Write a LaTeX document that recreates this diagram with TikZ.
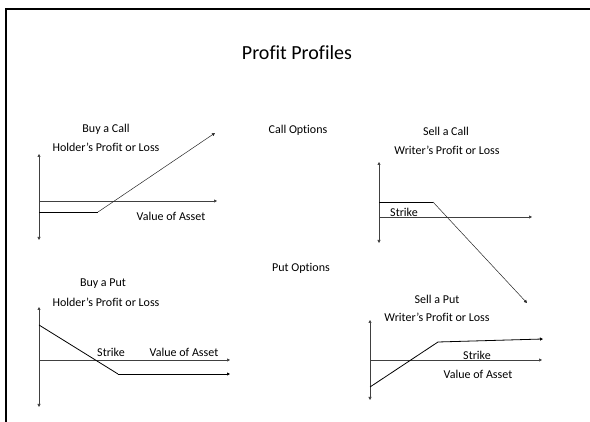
\documentclass[tikz,border=0pt]{standalone}
\usepackage{fontspec}
\setmainfont{Carlito}[Ligatures=NoCommon]
\usetikzlibrary{arrows.meta}
\tikzset{
  lbl/.style={inner sep=0pt, font=\fontsize{12}{14}\selectfont},
  ttl/.style={inner sep=0pt, font=\fontsize{20}{24}\selectfont},
  axis/.style={draw=black!75, line width=0.6pt},
  pay/.style={draw=black, line width=0.8pt},
  thin/.style={draw=black!85, line width=0.5pt},
  tip/.style={-{Triangle[length=3pt,width=3pt]}},
  tips/.style={{Triangle[length=3pt,width=3pt]}-{Triangle[length=3pt,width=3pt]}},
}
\begin{document}
\begin{tikzpicture}[x=1pt,y=-1pt]
\useasboundingbox (0,0) rectangle (590,422);
% frame
\draw[line width=2.2pt] (6,422) -- (6,9) -- (590,9);
% texts
\node[ttl] (title) at (297,53) {Profit Profiles};
\node[lbl] (callopt) at (298,130) {Call Options};
\node[lbl] (putopt) at (301,268) {Put Options};
% ---- Buy a Call
\node[lbl] (bc1) at (106,129) {Buy a Call};
\node[lbl] (bc2) at (106,147) {Holder’s Profit or Loss};
\node[lbl] (bcv) at (171,216) {Value of Asset};
\coordinate (bcT) at (39,154);
\coordinate (bcB) at (39,240);
\coordinate (bcA0) at (39,201);
\coordinate (bcA1) at (217,201);
\coordinate (bcP0) at (39,212);
\coordinate (bcP1) at (98,212);
\coordinate (bcP2) at (215,133);
\draw[axis,tips] (bcB) -- (bcT);
\draw[axis,tip] (bcA0) -- (bcA1);
\draw[pay] (bcP0) -- (bcP1);
\draw[thin,tip] (bcP1) -- (bcP2);
% ---- Sell a Call
\node[lbl] (sc1) at (446,131) {Sell a Call};
\node[lbl] (sc2) at (447,150) {Writer’s Profit or Loss};
\node[lbl] (scs) at (404,212) {Strike};
\coordinate (scT) at (379,162);
\coordinate (scB) at (379,243);
\coordinate (scA0) at (379,217);
\coordinate (scA1) at (532,217);
\coordinate (scP0) at (379,202);
\coordinate (scP1) at (433,202);
\coordinate (scP2) at (527,303);
\draw[axis,tips] (scB) -- (scT);
\draw[axis,tip] (scA0) -- (scA1);
\draw[pay] (scP0) -- (scP1);
\draw[thin,tip] (scP1) -- (scP2);
% ---- Buy a Put
\node[lbl] (bp1) at (103,284) {Buy a Put};
\node[lbl] (bp2) at (106,302) {Holder’s Profit or Loss};
\node[lbl] (bps) at (111,352) {Strike};
\node[lbl] (bpv) at (184,352) {Value of Asset};
\coordinate (bpT) at (39,307);
\coordinate (bpB) at (39,407);
\coordinate (bpA0) at (39,360);
\coordinate (bpA1) at (230,360);
\coordinate (bpP0) at (39,325);
\coordinate (bpP1) at (118,374);
\coordinate (bpP2) at (230,374);
\draw[axis,tips] (bpB) -- (bpT);
\draw[axis,tip] (bpA0) -- (bpA1);
\draw[pay] (bpP0) -- (bpP1);
\draw[pay,tip] (bpP1) -- (bpP2);
% ---- Sell a Put
\node[lbl] (sp1) at (437,299) {Sell a Put};
\node[lbl] (sp2) at (437,317) {Writer’s Profit or Loss};
\node[lbl] (sps) at (477,355) {Strike};
\node[lbl] (spv) at (478,374) {Value of Asset};
\coordinate (spT) at (370,320);
\coordinate (spB) at (370,400);
\coordinate (spA0) at (370,360);
\coordinate (spA1) at (542,360);
\coordinate (spP0) at (370,387);
\coordinate (spP1) at (438,342);
\coordinate (spP2) at (543,339);
\draw[axis,tips] (spB) -- (spT);
\draw[axis,tip] (spA0) -- (spA1);
\draw[pay] (spP0) -- (spP1);
\draw[pay,tip] (spP1) -- (spP2);
\end{tikzpicture}
\end{document}
